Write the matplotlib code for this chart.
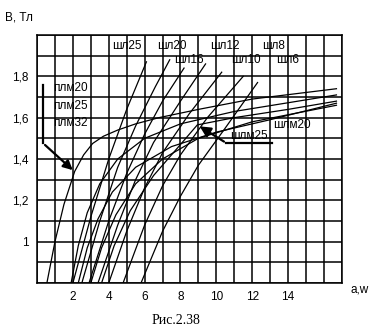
import numpy as np
import matplotlib
matplotlib.use("Agg")
import matplotlib.pyplot as plt

plt.rcParams['font.family'] = ['Liberation Sans', 'DejaVu Sans']

# steep curves (шл): (a, B)
shl25_x = [2.0, 3.0, 4.0, 5.0, 6.1]
shl25_y = [0.80, 1.12, 1.40, 1.64, 1.87]
shl20_x = [2.5, 3.5, 4.5, 5.5, 6.6, 7.4]
shl20_y = [0.80, 1.10, 1.36, 1.56, 1.75, 1.88]
shl16_x = [2.9, 4.0, 5.0, 6.0, 7.0, 8.2]
shl16_y = [0.80, 1.10, 1.33, 1.52, 1.68, 1.84]
shl12_x = [3.4, 4.5, 5.5, 6.5, 8.0, 9.4]
shl12_y = [0.80, 1.08, 1.30, 1.48, 1.68, 1.86]
shl10_x = [4.0, 5.0, 6.0, 7.0, 8.5, 10.3]
shl10_y = [0.80, 1.05, 1.26, 1.43, 1.62, 1.82]
shl8_x = [4.8, 6.0, 7.0, 8.0, 9.5, 11.5]
shl8_y = [0.80, 1.08, 1.27, 1.42, 1.60, 1.80]
shl6_x = [5.8, 7.0, 8.0, 9.0, 10.5, 12.3]
shl6_y = [0.80, 1.05, 1.22, 1.37, 1.55, 1.77]

# saturating curves (плм, шлм)
plm20_x = [0.55, 1.0, 1.5, 2.1, 2.6, 3.1, 3.7, 4.5, 5.5, 6.8, 9.0, 12.0, 16.7]
plm20_y = [0.80, 1.00, 1.18, 1.34, 1.42, 1.475, 1.51, 1.54, 1.57, 1.60, 1.64, 1.69, 1.74]
plm25_x = [1.9, 2.3, 2.8, 3.5, 4.5, 6.0, 8.0, 11.0, 16.7]
plm25_y = [0.80, 0.98, 1.14, 1.28, 1.40, 1.50, 1.57, 1.63, 1.71]
plm32_x = [2.3, 2.8, 3.4, 4.2, 5.5, 7.5, 10.0, 13.0, 16.7]
plm32_y = [0.80, 0.97, 1.11, 1.24, 1.36, 1.46, 1.53, 1.59, 1.67]
shlm20_x = [3.0, 3.6, 4.4, 5.5, 7.0, 9.0, 12.0, 16.7]
shlm20_y = [0.80, 0.97, 1.13, 1.28, 1.40, 1.50, 1.58, 1.66]
shlm25_x = [3.6, 4.3, 5.2, 6.5, 8.0, 8.94, 11.0, 14.0, 16.7]
shlm25_y = [0.80, 0.98, 1.15, 1.32, 1.47, 1.565, 1.60, 1.64, 1.68]

x_ticks = [2, 4, 6, 8, 10, 12, 14]
y_ticks = [1.0, 1.2, 1.4, 1.6, 1.8]
y_tick_labels = ['1', '1,2', '1,4', '1,6', '1,8']

fig = plt.figure(figsize=(3.74, 3.32), dpi=100)
ax = fig.add_axes([0.099, 0.1476, 0.815, 0.747])
ax.set_xlim(0, 17)
ax.set_ylim(0.8, 2.0)

# grid
for gx in range(0, 18):
    ax.axvline(gx, color='black', lw=1.1, zorder=1)
for gy in np.arange(0.8, 2.001, 0.1):
    ax.axhline(gy, color='black', lw=1.1, zorder=1)

curves = [
    (shl25_x, shl25_y), (shl20_x, shl20_y), (shl16_x, shl16_y),
    (shl12_x, shl12_y), (shl10_x, shl10_y), (shl8_x, shl8_y),
    (shl6_x, shl6_y), (plm20_x, plm20_y), (plm25_x, plm25_y),
    (plm32_x, plm32_y), (shlm20_x, shlm20_y), (shlm25_x, shlm25_y),
]
for cx, cy in curves:
    ax.plot(cx, cy, color='black', lw=0.9, zorder=2)

# curve labels
fs = 8.5
for txt, tx, ty in [('шл25', 5.0, 1.947), ('шл20', 7.5, 1.947), ('шл12', 10.45, 1.947),
                    ('шл8', 13.2, 1.947), ('шл16', 8.5, 1.879), ('шл10', 11.67, 1.879),
                    ('шл6', 14.0, 1.879), ('шлм20', 14.2, 1.565), ('шлм25', 11.8, 1.51)]:
    ax.text(tx, ty, txt, fontsize=fs, ha='center', va='center', zorder=3)
for txt, ty in [('плм20', 1.744), ('плм25', 1.657), ('плм32', 1.574)]:
    ax.text(0.9, ty, txt, fontsize=fs, ha='left', va='center', zorder=3)

# bracket with arrow for плм
ax.plot([0.33, 0.33], [1.76, 1.477], color='black', lw=1.6, zorder=3)
ax.annotate('', xy=(2.11, 1.337), xytext=(0.33, 1.477),
            arrowprops=dict(arrowstyle='-|>', color='black', lw=1.6, mutation_scale=14),
            zorder=3)

# leader with arrow for шлм25
ax.plot([10.56, 13.1], [1.477, 1.477], color='black', lw=1.6, zorder=3)
ax.annotate('', xy=(8.94, 1.565), xytext=(10.56, 1.477),
            arrowprops=dict(arrowstyle='-|>', color='black', lw=1.6, mutation_scale=16),
            zorder=3)

ax.set_xticks(x_ticks)
ax.set_xticklabels([str(v) for v in x_ticks])
ax.set_yticks(y_ticks)
ax.set_yticklabels(y_tick_labels)
ax.tick_params(length=0, labelsize=8.5, pad=6)
for sp in ax.spines.values():
    sp.set_linewidth(1.1)

fig.text(0.013, 0.948, 'В, Тл', fontsize=8.5, ha='left', va='center')
fig.text(0.962, 0.127, 'a,w', fontsize=8.5, ha='center', va='center')
fig.text(0.47, 0.035, 'Рис.2.38', fontsize=10, ha='center', va='center',
         family=['Liberation Serif', 'DejaVu Serif'])

fig.savefig('out.png', dpi=100)
